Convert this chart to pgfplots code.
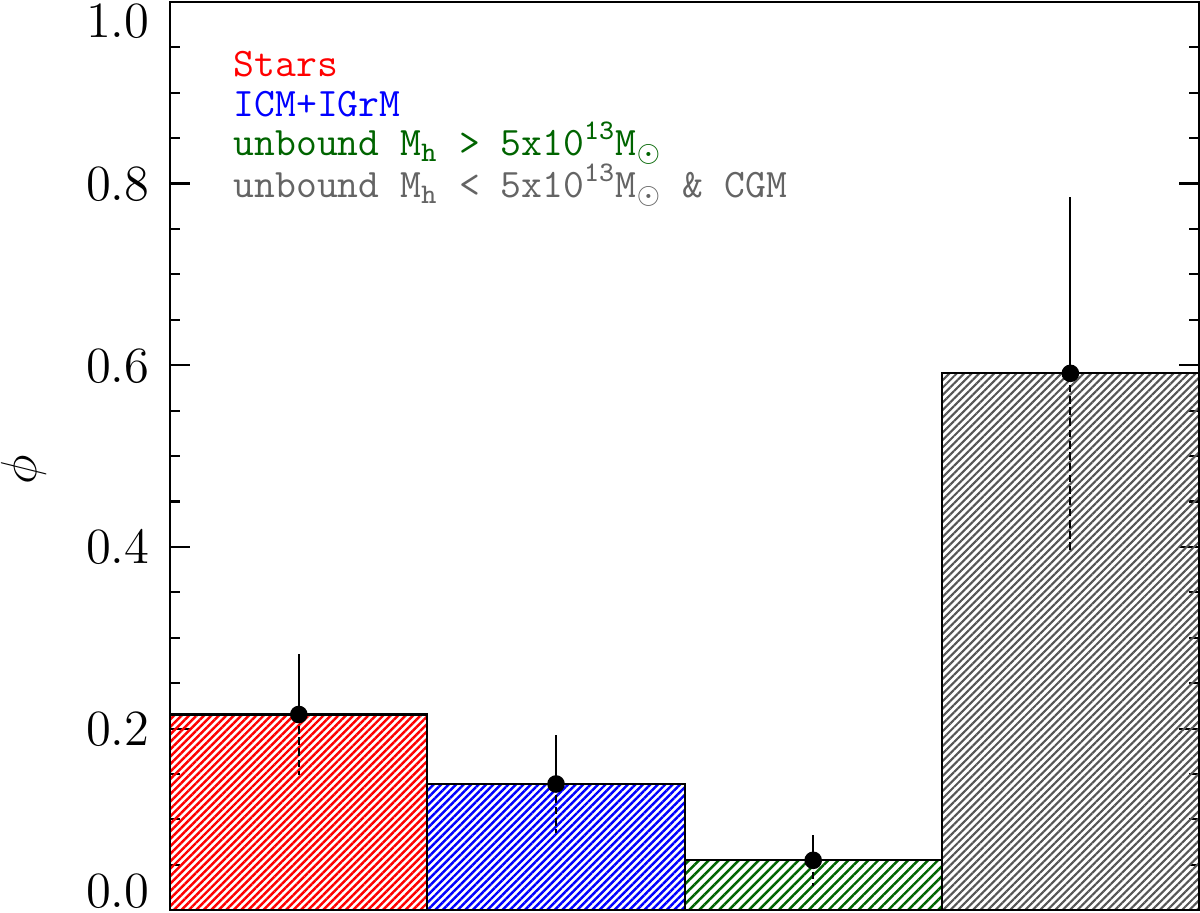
\documentclass[border=0pt]{standalone}
\usepackage{pgfplots}
\pgfplotsset{compat=1.18}
\usetikzlibrary{patterns.meta}
\definecolor{starred}{RGB}{255,0,0}
\definecolor{icmblue}{RGB}{0,0,255}
\definecolor{unbgreen}{RGB}{0,100,0}
\definecolor{unbgray}{RGB}{100,100,100}
\definecolor{hatchgray}{RGB}{85,85,85}

\begin{document}
\begin{tikzpicture}
  \begin{axis}[
    scale only axis,
    width=102.7mm, height=90.7mm,
    xmin=0, xmax=4, ymin=0, ymax=1.0,
    xtick=\empty,
    ytick={0,0.2,0.4,0.6,0.8,1.0},
    minor y tick num=3,
    tick align=inside,
    ytick pos=both,
    major tick length=2mm,
    minor tick length=1mm,
    axis line style={line width=0.6pt},
    every tick/.style={black, line width=0.6pt},
    % zero-height label boxes; end labels are pulled inside the frame
    yticklabel={\ifnum\ticknum=0 \raisebox{0.3mm}[0pt][0pt]{\axisdefaultticklabel}%
      \else\ifnum\ticknum=5 \raisebox{-3.6mm}[0pt][0pt]{\axisdefaultticklabel}%
      \else\raisebox{-1.7mm}[0pt][0pt]{\axisdefaultticklabel}\fi\fi},
    yticklabel style={/pgf/number format/fixed, /pgf/number format/fixed zerofill,
      /pgf/number format/precision=1, font=\fontsize{15}{17}\selectfont,
      inner sep=0pt, xshift=-2mm},
    ylabel={$\phi$},
    ylabel style={at={(axis description cs:-0.142,0.485)}, anchor=center,
      inner sep=0pt, font=\fontsize{14}{16}\selectfont},
    clip=false,
  ]
    % bars (one quarter of the axis each)
    \addplot[ybar interval, draw=black, line width=0.6pt,
      pattern={Lines[angle=45, distance=1.5pt, line width=0.7pt]}, pattern color=starred]
      coordinates {(0,0.2155) (1,0.2155)};
    \addplot[ybar interval, draw=black, line width=0.6pt,
      pattern={Lines[angle=45, distance=1.5pt, line width=0.7pt]}, pattern color=icmblue]
      coordinates {(1,0.139) (2,0.139)};
    \addplot[ybar interval, draw=black, line width=0.6pt,
      pattern={Lines[angle=45, distance=2pt, line width=0.7pt]}, pattern color=unbgreen]
      coordinates {(2,0.055) (3,0.055)};
    \addplot[ybar interval, draw=black, line width=0.6pt,
      pattern={Lines[angle=45, distance=1.5pt, line width=0.6pt]}, pattern color=hatchgray]
      coordinates {(3,0.591) (4,0.591)};

    % lower errors, dashed
    \addplot[black, only marks, mark=none,
      error bars/.cd, y dir=minus, y explicit, error mark=none,
      error bar style={line width=0.6pt, dash pattern=on 2.2pt off 1pt}]
      coordinates {
        (0.5,0.2155) -= (0,0.067)
        (1.5,0.139)  -= (0,0.054)
        (2.5,0.055)  -= (0,0.028)
        (3.5,0.591)  -= (0,0.194)
      };
    % upper errors, solid, with points
    \addplot[black, only marks, mark=*, mark size=2.3pt,
      error bars/.cd, y dir=plus, y explicit, error mark=none,
      error bar style={line width=0.6pt, solid}]
      coordinates {
        (0.5,0.2155) += (0,0.067)
        (1.5,0.139)  += (0,0.054)
        (2.5,0.055)  += (0,0.028)
        (3.5,0.591)  += (0,0.194)
      };

    % a little room left of the phi label, as in the original
    \path (rel axis cs:-0.1655,0.5);

    % labels
    \begin{scope}[every node/.style={anchor=base west, inner sep=0pt,
        font=\ttfamily\fontsize{11.5}{13}\selectfont}]
      \node[text=starred]  at (rel axis cs:0.061,0.918) {Stars};
      \node[text=icmblue]  at (rel axis cs:0.061,0.874) {ICM+IGrM};
      \node[text=unbgreen] at (rel axis cs:0.061,0.831)
        {unbound M\textsubscript{h} > 5x10\textsuperscript{13}M\textsubscript{$\odot$}};
      \node[text=unbgray]  at (rel axis cs:0.061,0.785)
        {unbound M\textsubscript{h} < 5x10\textsuperscript{13}M\textsubscript{$\odot$} \& CGM};
    \end{scope}
  \end{axis}
\end{tikzpicture}
\end{document}
